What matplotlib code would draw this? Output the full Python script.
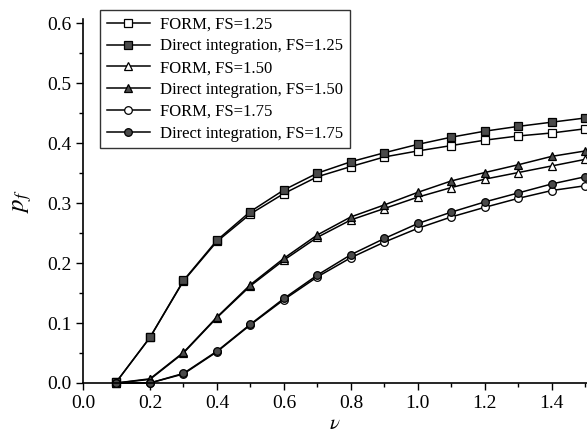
import numpy as np
import matplotlib
matplotlib.use("Agg")
import matplotlib.pyplot as plt
from matplotlib.ticker import MultipleLocator, FormatStrFormatter

plt.rcParams['font.family'] = ['Liberation Serif', 'DejaVu Serif']
plt.rcParams['mathtext.fontset'] = 'stix'

# Poisson-type ratio nu on the x axis
nu = [0.1, 0.2, 0.3, 0.4, 0.5, 0.6, 0.7, 0.8, 0.9, 1.0, 1.1, 1.2, 1.3, 1.4, 1.5]

# FS = 1.25
form_125 = [0.002, 0.076, 0.170, 0.236, 0.282, 0.316, 0.344, 0.361, 0.377, 0.387,
            0.396, 0.405, 0.412, 0.417, 0.424]
direct_125 = [0.002, 0.076, 0.171, 0.238, 0.286, 0.322, 0.350, 0.369, 0.384, 0.398,
              0.410, 0.420, 0.428, 0.435, 0.442]
# FS = 1.50
form_150 = [0.0, 0.006, 0.050, 0.109, 0.162, 0.205, 0.243, 0.272, 0.291, 0.310,
            0.326, 0.340, 0.351, 0.362, 0.373]
direct_150 = [0.0, 0.007, 0.051, 0.110, 0.164, 0.208, 0.247, 0.277, 0.297, 0.318,
              0.337, 0.351, 0.364, 0.378, 0.387]
# FS = 1.75
form_175 = [0.0, 0.0, 0.015, 0.052, 0.097, 0.139, 0.177, 0.209, 0.235, 0.258,
            0.277, 0.293, 0.308, 0.321, 0.329]
direct_175 = [0.0, 0.0, 0.016, 0.053, 0.098, 0.141, 0.180, 0.214, 0.241, 0.266,
              0.285, 0.302, 0.317, 0.332, 0.344]

series = [
    (form_125, 's', 'white', 'FORM, FS=1.25'),
    (direct_125, 's', '#4a4a4a', 'Direct integration, FS=1.25'),
    (form_150, '^', 'white', 'FORM, FS=1.50'),
    (direct_150, '^', '#4a4a4a', 'Direct integration, FS=1.50'),
    (form_175, 'o', 'white', 'FORM, FS=1.75'),
    (direct_175, 'o', '#4a4a4a', 'Direct integration, FS=1.75'),
]

fig = plt.figure(figsize=(5.87, 4.46), dpi=100)
ax = fig.add_axes([0.1414, 0.1413, 0.8586, 0.816])

for vals, mk, fc, lab in series:
    ax.plot(nu, vals, color='black', lw=1.1, marker=mk, markersize=5.5,
            markerfacecolor=fc, markeredgecolor='black', markeredgewidth=0.9,
            label=lab, clip_on=False)

ax.set_xlim(0, 1.505)
ax.set_ylim(0, 0.607)
ax.xaxis.set_major_locator(MultipleLocator(0.2))
ax.xaxis.set_minor_locator(MultipleLocator(0.1))
ax.yaxis.set_major_locator(MultipleLocator(0.1))
ax.yaxis.set_minor_locator(MultipleLocator(0.05))
ax.xaxis.set_major_formatter(FormatStrFormatter('%.1f'))
ax.yaxis.set_major_formatter(FormatStrFormatter('%.1f'))
ax.tick_params(which='major', direction='out', length=5, width=1, labelsize=14)
ax.tick_params(which='minor', direction='out', length=3, width=1)
ax.spines['top'].set_visible(False)
ax.spines['right'].set_visible(False)
for s in ('left', 'bottom'):
    ax.spines[s].set_linewidth(1.2)

ax.set_xlabel(r'$\nu$', fontsize=15, labelpad=2)
ax.set_ylabel(r'$\mathbf{\mathit{p}}_f$', fontsize=18, labelpad=9)

leg = ax.legend(loc='upper left', bbox_to_anchor=(0.034, 1.025), borderaxespad=0,
                fontsize=12, frameon=True, fancybox=False, edgecolor='black',
                handlelength=2.6, labelspacing=0.35, borderpad=0.4,
                handletextpad=0.6)
leg.get_frame().set_linewidth(1.0)

fig.savefig('out.png', dpi=100)
